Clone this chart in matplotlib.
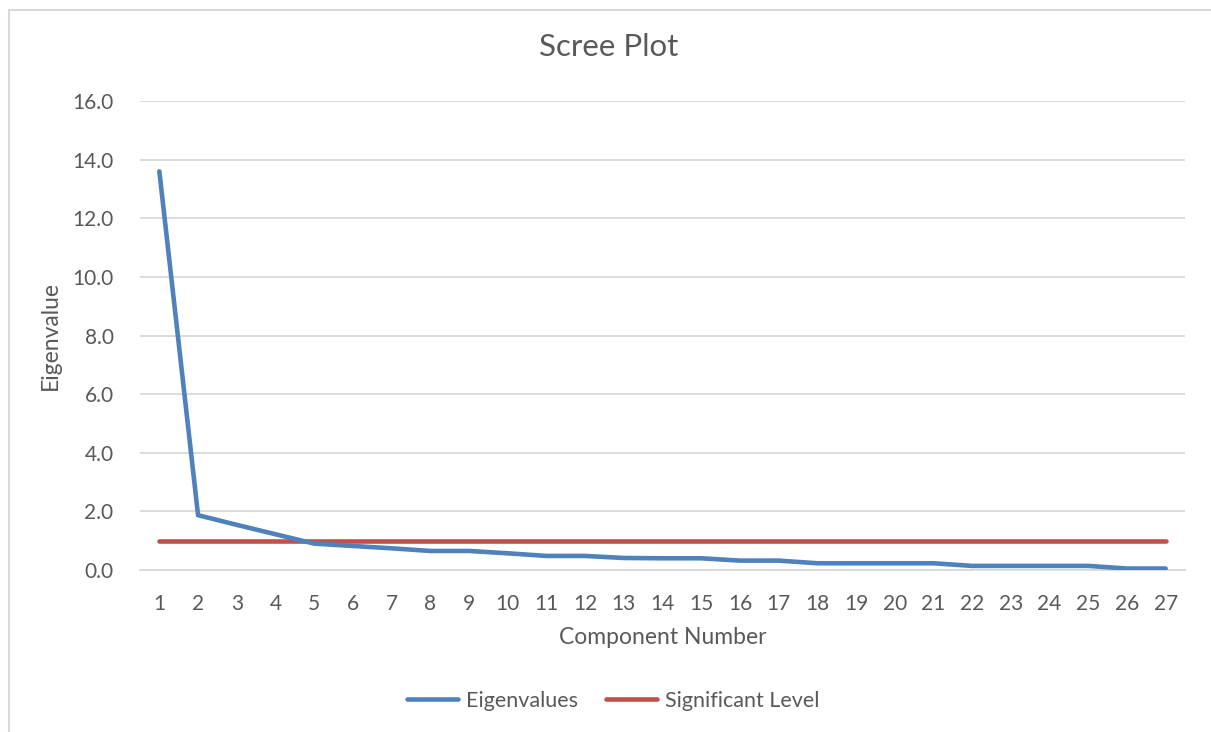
import matplotlib.pyplot as plt
from matplotlib.patches import Rectangle

components = list(range(1, 28))
eigenvalues = [13.6, 1.87, 1.54, 1.22, 0.9, 0.82, 0.74, 0.65, 0.65, 0.57,
               0.48, 0.48, 0.41, 0.40, 0.40, 0.32, 0.32, 0.23, 0.23, 0.23,
               0.23, 0.14, 0.14, 0.14, 0.14, 0.05, 0.05]
significant_level = [1.0] * len(components)
y_ticks = [0, 2, 4, 6, 8, 10, 12, 14, 16]

text_color = '#595959'
plt.rcParams['font.family'] = ['Lato', 'DejaVu Sans']

fig = plt.figure(figsize=(12.11, 7.32), dpi=100)
W, H = 1211, 732
ax = fig.add_axes([140 / W, (H - 570) / H, (1185 - 140) / W, (570 - 101) / H])

# chart border (runs off the right and bottom edges)
fig.patches.append(Rectangle((9 / W, -0.1), 1.2, (H - 10) / H + 0.1,
                             transform=fig.transFigure, fill=False,
                             edgecolor='#D9D9D9', linewidth=1.5))

ax.plot(components, eigenvalues, color='#4F81BD', linewidth=3.3,
        solid_capstyle='round', solid_joinstyle='round', label='Eigenvalues', zorder=3)
ax.plot(components, significant_level, color='#C0504D', linewidth=3.3,
        solid_capstyle='round', label='Significant Level', zorder=2)

ax.set_xlim(0.5, 27.5)
ax.set_ylim(0, 16)
ax.set_yticks(y_ticks)
ax.set_yticklabels([f'{v:.1f}' for v in y_ticks])
ax.set_xticks(components)
ax.grid(axis='y', color='#D9D9D9', linewidth=1.3)
ax.set_axisbelow(True)
for s in ['top', 'right', 'left']:
    ax.spines[s].set_visible(False)
ax.spines['bottom'].set_color('#D9D9D9')
ax.spines['bottom'].set_linewidth(1.3)
ax.tick_params(axis='both', length=0, labelsize=15, colors=text_color)
ax.tick_params(axis='y', pad=19)
ax.tick_params(axis='x', pad=17)

ax.set_xlabel('Component Number', fontsize=16.5, color=text_color, labelpad=10)
ax.set_ylabel('Eigenvalue', fontsize=16.5, color=text_color, labelpad=8)
fig.text(609 / W, (H - 47) / H, 'Scree Plot', ha='center', va='center',
         fontsize=22.5, color=text_color)

fig.legend(loc='center', bbox_to_anchor=(613 / W, (H - 701) / H), ncol=2,
           frameon=False, fontsize=15.5, labelcolor=text_color,
           handlelength=2.4, columnspacing=1.3, handletextpad=0.35)

fig.savefig('out.png', dpi=100)
